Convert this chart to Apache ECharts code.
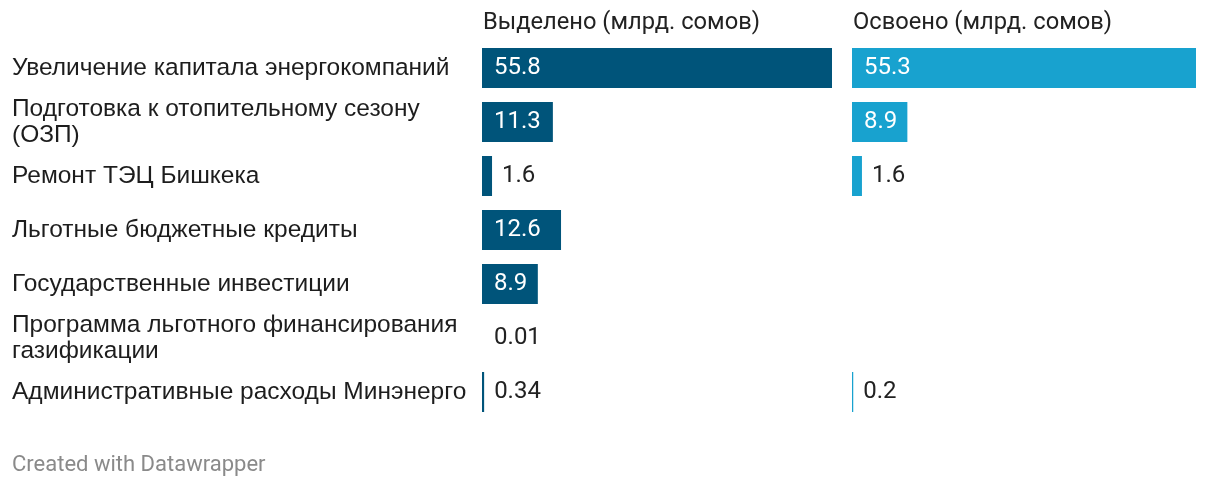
<!DOCTYPE html>
<html>
<head>
<meta charset="utf-8">
<script src="https://cdn.jsdelivr.net/npm/echarts@6/dist/echarts.min.js"></script>
<style>
html,body{margin:0;padding:0;background:#fff;}
#chart{width:1220px;height:488px;}
</style>
</head>
<body>
<div id="chart"></div>
<script>
// ---- data ----
const categories = [
  'Увеличение капитала энергокомпаний',
  'Подготовка к отопительному сезону (ОЗП)',
  'Ремонт ТЭЦ Бишкека',
  'Льготные бюджетные кредиты',
  'Государственные инвестиции',
  'Программа льготного финансирования газификации',
  'Административные расходы Минэнерго'
];
const seriesNames = ['Выделено (млрд. сомов)', 'Освоено (млрд. сомов)'];
const allocated = [55.8, 11.3, 1.6, 12.6, 8.9, 0.01, 0.34];
const spent     = [55.3, 8.9, 1.6, null, null, null, 0.2];
const footerText = 'Created with Datawrapper';

// ---- styles ----
const colors = ['#00547a', '#18a2cf'];
const labelFont = '"Liberation Sans", Arial, sans-serif';
const numFont = 'Roboto, "Noto Sans", sans-serif';
const maxLineChars = 34;

function wrap(text) {
  const words = text.split(' ');
  const lines = [];
  let cur = '';
  words.forEach(w => {
    const t = cur ? cur + ' ' + w : w;
    if (t.length > maxLineChars && cur) { lines.push(cur); cur = w; }
    else cur = t;
  });
  if (cur) lines.push(cur);
  return lines.join('\n');
}

const chart = echarts.init(document.getElementById('chart'), null, {renderer: 'canvas'});

function makeData(values, maxV, widthPx) {
  return values.map(v => {
    if (v === null) return {value: '-'};
    const px = v / maxV * widthPx;
    const inside = px > 50;
    const item = {
      value: v,
      label: inside
        ? {position: 'insideLeft', distance: 12, color: '#ffffff'}
        : {position: 'right', distance: px < 1 ? 12 : 10, color: '#222222'}
    };
    if (px < 1) item.itemStyle = {color: 'rgba(0,0,0,0)'};
    return item;
  });
}

const gridTop = 41, gridH = 378;
const g0 = {left: 482, width: 350};
const g1 = {left: 852, width: 344};
const max0 = Math.max(...allocated);
const max1 = Math.max(...spent.filter(v => v !== null));

const option = {
  backgroundColor: '#ffffff',
  animation: false,
  title: [
    {text: seriesNames[0], left: g0.left + 1, top: 11, padding: 0,
     textStyle: {fontFamily: numFont, fontSize: 23.7, fontWeight: 'normal', color: '#222'}},
    {text: seriesNames[1], left: g1.left + 1, top: 11, padding: 0,
     textStyle: {fontFamily: numFont, fontSize: 23.7, fontWeight: 'normal', color: '#222'}},
    {text: footerText, left: 12, top: 454, padding: 0,
     textStyle: {fontFamily: numFont, fontSize: 22, fontWeight: 'normal', color: '#8a8a8a'}}
  ],
  grid: [
    {left: g0.left, width: g0.width, top: gridTop, height: gridH},
    {left: g1.left, width: g1.width, top: gridTop, height: gridH}
  ],
  xAxis: [
    {type: 'value', gridIndex: 0, min: 0, max: max0, show: false},
    {type: 'value', gridIndex: 1, min: 0, max: max1, show: false}
  ],
  yAxis: [
    {type: 'category', gridIndex: 0, data: categories, inverse: true,
     axisLine: {show: false}, axisTick: {show: false}, splitLine: {show: false},
     axisLabel: {
       show: true, interval: 0, align: 'left', margin: g0.left - 12,
       fontFamily: labelFont, fontSize: 24.5, color: '#1d1d1d', lineHeight: 26,
       formatter: wrap
     }},
    {type: 'category', gridIndex: 1, data: categories, inverse: true, show: false}
  ],
  series: [
    {type: 'bar', name: seriesNames[0], xAxisIndex: 0, yAxisIndex: 0,
     barWidth: 40, itemStyle: {color: colors[0]},
     label: {show: true, fontFamily: numFont, fontSize: 24,
             formatter: p => String(p.value)},
     data: makeData(allocated, max0, g0.width)},
    {type: 'bar', name: seriesNames[1], xAxisIndex: 1, yAxisIndex: 1,
     barWidth: 40, itemStyle: {color: colors[1]},
     label: {show: true, fontFamily: numFont, fontSize: 24,
             formatter: p => String(p.value)},
     data: makeData(spent, max1, g1.width)}
  ]
};
chart.setOption(option);
</script>
</body>
</html>
